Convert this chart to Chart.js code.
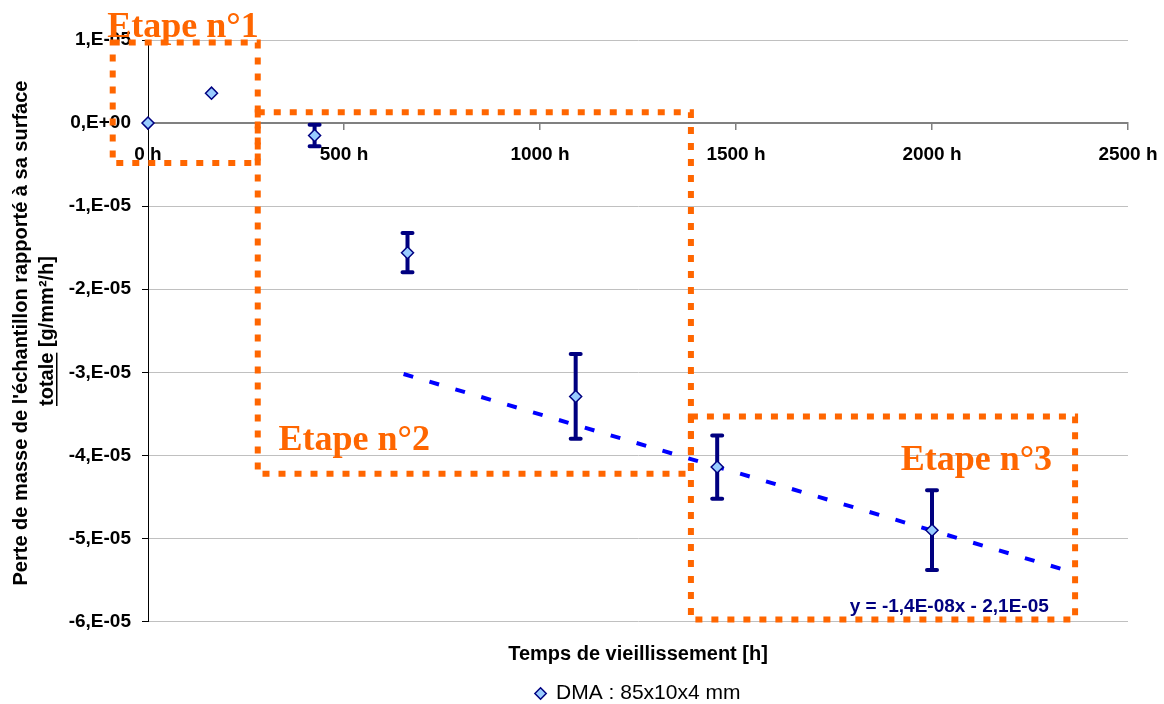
<!DOCTYPE html>
<html>
<head>
<meta charset="utf-8">
<script src="https://cdn.jsdelivr.net/npm/chart.js@4.4.1/dist/chart.umd.min.js"></script>
<style>
  body { margin: 0; background: #fff; }
  #wrap { width: 1164px; height: 704px; }
</style>
</head>
<body>
<div id="wrap"><canvas id="lossChart" width="1164" height="704"></canvas></div>
<script>
// valeurs
const agingHours = [0, 162, 425, 662, 1091, 1452, 2000];
const massLoss = [0, 3.6e-6, -1.5e-6, -1.56e-5, -3.29e-5, -4.14e-5, -4.9e-5];
const massLossError = [0, 0, 1.3e-6, 2.36e-6, 5.1e-6, 3.8e-6, 4.8e-6];
const trendHours = [652, 2355];
const trendValues = [-3.02e-5, -5.4e-5];
const xTickValues = [0, 500, 1000, 1500, 2000, 2500];
const xTickLabels = ['0 h', '500 h', '1000 h', '1500 h', '2000 h', '2500 h'];
const yTickValues = [1e-5, 0, -1e-5, -2e-5, -3e-5, -4e-5, -5e-5, -6e-5];
const yTickLabels = ['1,E-05', '0,E+00', '-1,E-05', '-2,E-05', '-3,E-05', '-4,E-05', '-5,E-05', '-6,E-05'];
const stageLabels = ['Etape n°1', 'Etape n°2', 'Etape n°3'];
const seriesLabel = 'DMA : 85x10x4 mm';
const trendLabel = 'y = -1,4E-08x - 2,1E-05';

// cadres des étapes (en unités des axes)
const stageBoxes = [
    { x0: -90, x1: 280, y0: 9.7e-6, y1: -4.8e-6, tx: -104, ty: 1.04e-5 },
    { x0: 280, x1: 1385, y0: 1.3e-6, y1: -4.22e-5, tx: 333, ty: -3.94e-5 },
    { x0: 1385, x1: 2365, y0: -3.53e-5, y1: -5.975e-5, tx: 1920, ty: -4.17e-5 }
];

const orange = '#ff6600';
const navy = '#000080';

const errorBars = {
    id: 'errorBars',
    beforeDatasetsDraw(chart) {
        const { ctx, scales: { x, y } } = chart;
        ctx.save();
        ctx.strokeStyle = navy;
        ctx.lineWidth = 4;
        ctx.lineCap = 'round';
        agingHours.forEach((h, i) => {
            const e = massLossError[i];
            if (!e) return;
            const px = x.getPixelForValue(h);
            const top = y.getPixelForValue(massLoss[i] + e);
            const bot = y.getPixelForValue(massLoss[i] - e);
            ctx.beginPath();
            ctx.moveTo(px, top); ctx.lineTo(px, bot);
            ctx.moveTo(px - 5, top); ctx.lineTo(px + 5, top);
            ctx.moveTo(px - 5, bot); ctx.lineTo(px + 5, bot);
            ctx.stroke();
        });
        ctx.restore();
    }
};

const decorations = {
    id: 'decorations',
    afterDraw(chart) {
        const { ctx, scales: { x, y } } = chart;
        ctx.save();
        // cadres pointillés
        ctx.strokeStyle = orange;
        ctx.lineWidth = 6;
        ctx.setLineDash([7, 9]);
        stageBoxes.forEach(b => {
            const l = x.getPixelForValue(b.x0), r = x.getPixelForValue(b.x1);
            const t = y.getPixelForValue(b.y0), bt = y.getPixelForValue(b.y1);
            ctx.strokeRect(l, t, r - l, bt - t);
        });
        ctx.setLineDash([]);
        ctx.fillStyle = orange;
        ctx.font = 'bold 36px "Liberation Serif"';
        ctx.textAlign = 'left';
        ctx.textBaseline = 'alphabetic';
        stageBoxes.forEach((b, i) => {
            ctx.fillText(stageLabels[i], x.getPixelForValue(b.tx), y.getPixelForValue(b.ty));
        });
        // équation de la tendance
        ctx.fillStyle = navy;
        ctx.font = 'bold 19px "Liberation Sans"';
        ctx.fillText(trendLabel, x.getPixelForValue(1790), y.getPixelForValue(-5.89e-5));

        // titre de l'axe vertical
        ctx.fillStyle = '#000';
        ctx.font = 'bold 20px "Liberation Sans"';
        ctx.textBaseline = 'middle';
        ctx.save();
        ctx.translate(21, 333);
        ctx.rotate(-Math.PI / 2);
        ctx.textAlign = 'center';
        ctx.fillText("Perte de masse de l'échantillon rapporté à sa surface", 0, 0);
        ctx.restore();
        ctx.save();
        ctx.translate(47, 331);
        ctx.rotate(-Math.PI / 2);
        const part1 = 'totale', part2 = ' [g/mm²/h]';
        const w1 = ctx.measureText(part1).width, w2 = ctx.measureText(part2).width;
        const sx = -(w1 + w2) / 2;
        ctx.textAlign = 'left';
        ctx.fillText(part1, sx, 0);
        ctx.fillText(part2, sx + w1, 0);
        ctx.fillRect(sx, 9, w1, 1.5);
        ctx.restore();
        ctx.restore();
    }
};

const ctx = document.getElementById('lossChart').getContext('2d');
new Chart(ctx, {
    type: 'scatter',
    data: {
        datasets: [{
            label: seriesLabel,
            data: agingHours.map((h, i) => ({ x: h, y: massLoss[i] })),
            pointStyle: 'rectRot',
            pointRadius: 6,
            pointHoverRadius: 6,
            backgroundColor: '#99ccff',
            borderColor: navy,
            borderWidth: 1.5,
            order: 0,
            clip: false
        }, {
            label: 'tendance',
            type: 'line',
            data: trendHours.map((h, i) => ({ x: h, y: trendValues[i] })),
            borderColor: '#0000ff',
            borderWidth: 4,
            borderDash: [10, 17],
            pointRadius: 0,
            fill: false,
            order: 1,
            clip: false
        }]
    },
    options: {
        responsive: false,
        animation: false,
        devicePixelRatio: 1,
        layout: { padding: { left: 0, top: 40, right: 36, bottom: -10 } },
        plugins: {
            tooltip: { enabled: false },
            legend: {
                position: 'bottom',
                fullSize: false,
                labels: {
                    filter: item => item.datasetIndex === 0,
                    usePointStyle: true,
                    boxWidth: 10,
                    boxHeight: 8,
                    padding: 3,
                    color: '#000',
                    font: { family: '"Liberation Sans"', size: 21 }
                }
            }
        },
        scales: {
            x: {
                type: 'linear',
                position: { y: 0 },
                min: 0,
                max: 2500,
                afterBuildTicks: s => { s.ticks = xTickValues.map(v => ({ value: v })); },
                afterFit: s => { s.paddingLeft = 0; s.paddingRight = 0; },
                ticks: {
                    callback: v => xTickLabels[xTickValues.indexOf(v)],
                    color: '#000',
                    padding: 14,
                    maxRotation: 0,
                    font: { family: '"Liberation Sans"', size: 19, weight: 'bold' }
                },
                grid: { drawOnChartArea: false, tickLength: 6, color: '#808080', lineWidth: 1.5 },
                border: { color: '#808080', width: 2 }
            },
            x2: {
                type: 'linear',
                position: 'bottom',
                min: 0,
                max: 2500,
                afterFit: s => { s.paddingLeft = 0; s.paddingRight = 0; },
                ticks: { display: false },
                grid: { display: false, drawTicks: false },
                border: { display: false },
                title: {
                    display: true,
                    text: 'Temps de vieillissement [h]',
                    color: '#000',
                    padding: { top: 21, bottom: 13.4 },
                    font: { family: '"Liberation Sans"', size: 20, weight: 'bold' }
                }
            },
            y: {
                type: 'linear',
                min: -6e-5,
                max: 1e-5,
                afterBuildTicks: s => { s.ticks = yTickValues.slice().reverse().map(v => ({ value: v })); },
                afterFit: s => { s.width = 148; s.paddingTop = 0; s.paddingBottom = 0; },
                ticks: {
                    callback: v => yTickLabels[yTickValues.indexOf(v)],
                    color: '#000',
                    padding: 11,
                    font: { family: '"Liberation Sans"', size: 19, weight: 'bold' }
                },
                grid: { color: '#c0c0c0', lineWidth: 1, tickLength: 6, tickColor: '#000' },
                border: { color: '#000', width: 1 }
            }
        }
    },
    plugins: [errorBars, decorations]
});
</script>
</body>
</html>
